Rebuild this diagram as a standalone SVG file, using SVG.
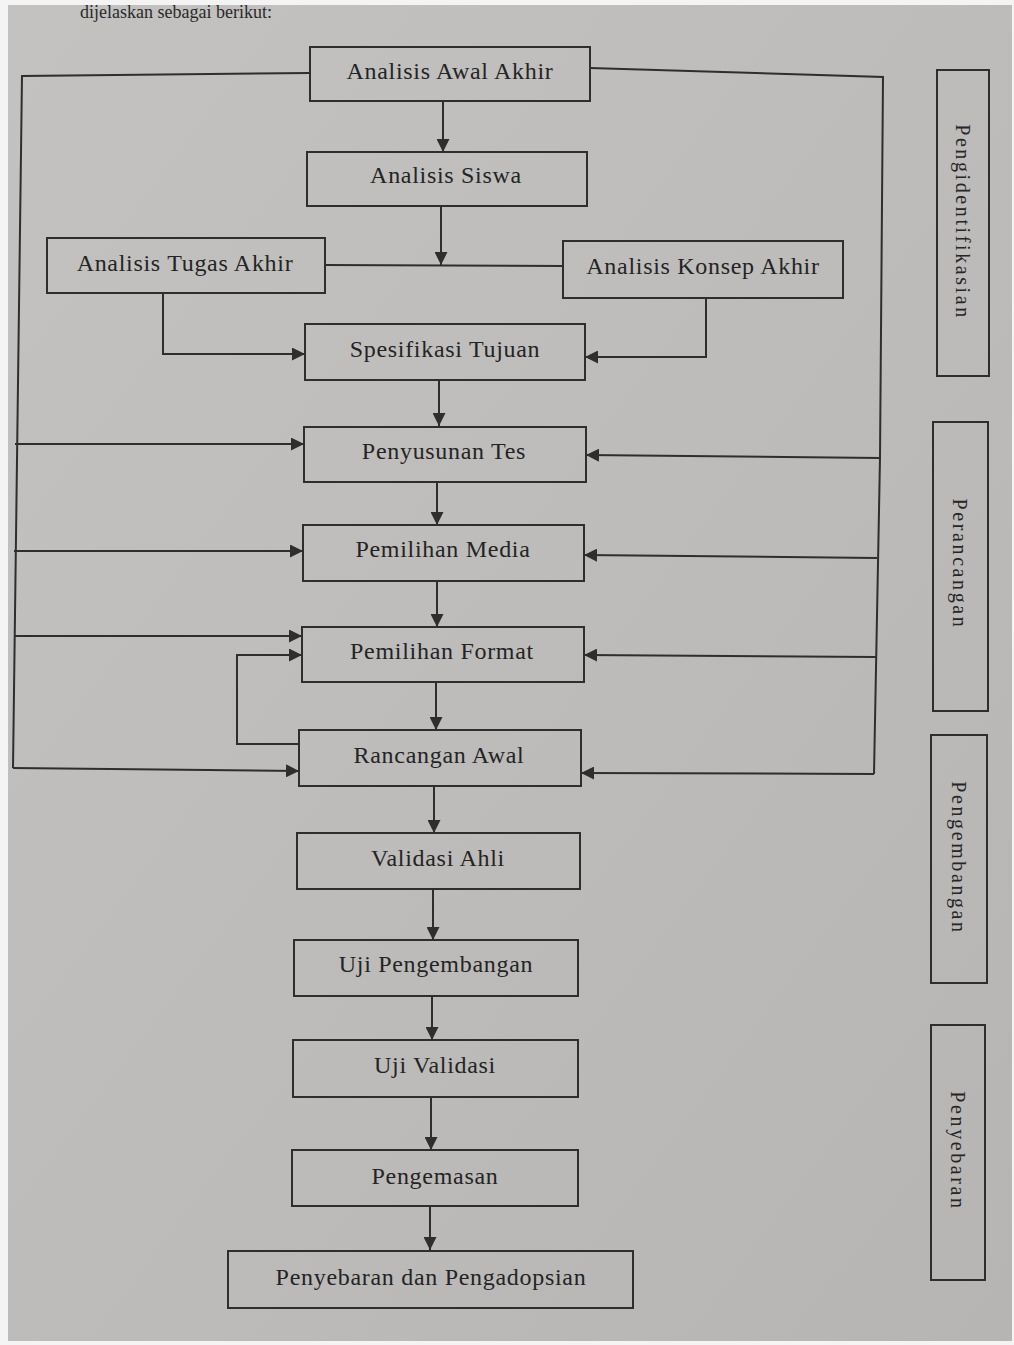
<svg xmlns="http://www.w3.org/2000/svg" width="1014" height="1345" viewBox="0 0 1014 1345">
<style>
.box{fill:none;stroke:#2e2e2e;stroke-width:2}
.lbl{font-family:"Liberation Serif","DejaVu Serif",serif;font-size:24px;fill:#242424;text-anchor:middle;letter-spacing:0.7px}
.side{font-family:"Liberation Serif","DejaVu Serif",serif;font-size:20px;fill:#262626;text-anchor:middle;letter-spacing:2.6px}
.ln{fill:none;stroke:#2e2e2e;stroke-width:2}
.ar{fill:none;stroke:#2e2e2e;stroke-width:2;marker-end:url(#ah)}
</style>
<defs>
<linearGradient id="bg" x1="0" y1="0" x2="1" y2="1">
<stop offset="0" stop-color="#c3c2c0"/>
<stop offset="0.5" stop-color="#bdbcba"/>
<stop offset="1" stop-color="#b6b5b3"/>
</linearGradient>
<marker id="ah" viewBox="0 0 10 10" refX="10" refY="5" markerWidth="6.5" markerHeight="6.5" orient="auto" markerUnits="strokeWidth">
<path d="M0,0 L10,5 L0,10 Z" fill="#2e2e2e"/>
</marker>
</defs>
<rect x="0" y="0" width="1014" height="1345" fill="#f4f4f4"/>
<rect x="8" y="5" width="1004" height="1336" fill="url(#bg)"/>
<text x="80" y="18" font-family="Liberation Serif, serif" font-size="18" fill="#2a2a2a">dijelaskan sebagai berikut:</text>

<g id="connectors">
<line class="ar" x1="443" y1="101" x2="443" y2="152"/>
<line class="ar" x1="441" y1="206" x2="441" y2="265"/>
<line class="ln" x1="325" y1="265" x2="563" y2="266"/>
<polyline class="ar" points="163,293 163,354 305,354"/>
<polyline class="ar" points="706,298 706,357 585,357"/>
<line class="ar" x1="439" y1="380" x2="439" y2="426"/>
<line class="ar" x1="437" y1="482" x2="437" y2="525"/>
<line class="ar" x1="437" y1="581" x2="437" y2="627"/>
<line class="ar" x1="436" y1="682" x2="436" y2="730"/>
<line class="ar" x1="434" y1="786" x2="434" y2="833"/>
<line class="ar" x1="433" y1="889" x2="433" y2="940"/>
<line class="ar" x1="432" y1="996" x2="432" y2="1040"/>
<line class="ar" x1="431" y1="1097" x2="431" y2="1150"/>
<line class="ar" x1="430" y1="1206" x2="430" y2="1250"/>
<polyline class="ar" points="299,744 237,744 237,655 302,655"/>
<polyline class="ln" points="310,73 22,76 13,768"/>
<line class="ar" x1="15" y1="444" x2="304" y2="444"/>
<line class="ar" x1="14" y1="551" x2="303" y2="551"/>
<line class="ar" x1="14" y1="636" x2="302" y2="636"/>
<line class="ar" x1="13" y1="768" x2="299" y2="771"/>
<polyline class="ln" points="590,68 883,77 880,458"/>
<polyline class="ar" points="880,458 586,455"/>
<polyline class="ln" points="880,458 874,774"/>
<line class="ar" x1="877" y1="558" x2="584" y2="555"/>
<line class="ar" x1="876" y1="657" x2="584" y2="655"/>
<line class="ar" x1="874" y1="774" x2="581" y2="773"/>
</g>

<g id="n1"><rect class="box" x="310" y="47" width="280" height="54"/><text class="lbl" x="450" y="79">Analisis Awal Akhir</text></g>
<g id="n2"><rect class="box" x="307" y="152" width="280" height="54"/><text class="lbl" x="446" y="183">Analisis Siswa</text></g>
<g id="n3"><rect class="box" x="47" y="238" width="278" height="55"/><text class="lbl" x="185" y="271">Analisis Tugas Akhir</text></g>
<g id="n4"><rect class="box" x="563" y="241" width="280" height="57"/><text class="lbl" x="703" y="274">Analisis Konsep Akhir</text></g>
<g id="n5"><rect class="box" x="305" y="324" width="280" height="56"/><text class="lbl" x="445" y="357">Spesifikasi Tujuan</text></g>
<g id="n6"><rect class="box" x="304" y="427" width="282" height="55"/><text class="lbl" x="444" y="459">Penyusunan Tes</text></g>
<g id="n7"><rect class="box" x="303" y="525" width="281" height="56"/><text class="lbl" x="443" y="557">Pemilihan Media</text></g>
<g id="n8"><rect class="box" x="302" y="627" width="282" height="55"/><text class="lbl" x="442" y="659">Pemilihan Format</text></g>
<g id="n9"><rect class="box" x="299" y="730" width="282" height="56"/><text class="lbl" x="439" y="763">Rancangan Awal</text></g>
<g id="n10"><rect class="box" x="297" y="833" width="283" height="56"/><text class="lbl" x="438" y="866">Validasi Ahli</text></g>
<g id="n11"><rect class="box" x="294" y="940" width="284" height="56"/><text class="lbl" x="436" y="972">Uji Pengembangan</text></g>
<g id="n12"><rect class="box" x="293" y="1040" width="285" height="57"/><text class="lbl" x="435" y="1073">Uji Validasi</text></g>
<g id="n13"><rect class="box" x="292" y="1150" width="286" height="56"/><text class="lbl" x="435" y="1184">Pengemasan</text></g>
<g id="n14"><rect class="box" x="228" y="1251" width="405" height="57"/><text class="lbl" x="431" y="1285">Penyebaran dan Pengadopsian</text></g>

<g id="s1"><rect class="box" x="937" y="70" width="52" height="306"/><text class="side" transform="translate(956,222) rotate(90)">Pengidentifikasian</text></g>
<g id="s2"><rect class="box" x="933" y="422" width="55" height="289"/><text class="side" transform="translate(953,564) rotate(90)">Perancangan</text></g>
<g id="s3"><rect class="box" x="931" y="735" width="56" height="248"/><text class="side" transform="translate(952,858) rotate(90)">Pengembangan</text></g>
<g id="s4"><rect class="box" x="931" y="1025" width="54" height="255"/><text class="side" transform="translate(951,1151) rotate(90)">Penyebaran</text></g>
</svg>
